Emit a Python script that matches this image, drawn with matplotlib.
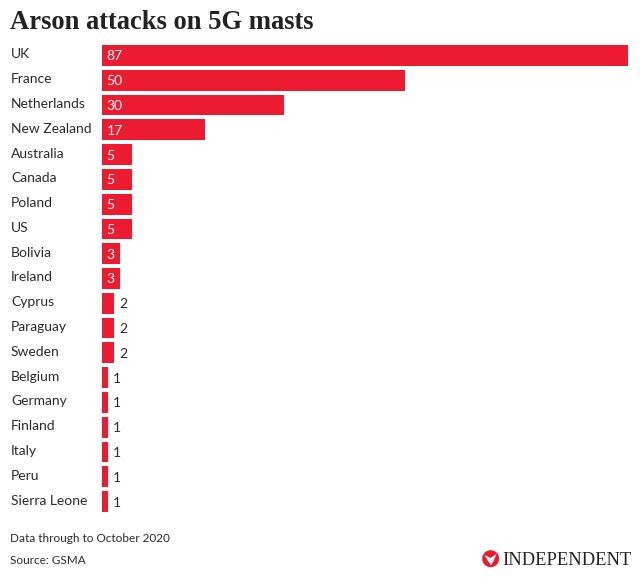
import matplotlib
matplotlib.use("Agg")
import matplotlib.pyplot as plt
from matplotlib.patches import Circle, Polygon

countries = ["UK", "France", "Netherlands", "New Zealand", "Australia", "Canada", "Poland", "US",
             "Bolivia", "Ireland", "Cyprus", "Paraguay", "Sweden", "Belgium", "Germany", "Finland",
             "Italy", "Peru", "Sierra Leone"]
attacks = [87, 50, 30, 17, 5, 5, 5, 5, 3, 3, 2, 2, 2, 1, 1, 1, 1, 1, 1]

W, H = 640, 581
RED = "#ed1b30"
TXT = "#2b2b2b"
plt.rcParams["font.family"] = ["Lato", "DejaVu Sans"]

fig = plt.figure(figsize=(W / 100, H / 100), dpi=100, facecolor="white")
ax = fig.add_axes([102 / W, 1 - 526 / H, (W - 102) / W, (526 - 30.5) / H])
ax.set_xlim(0, (W - 102) / 6.05)
ax.set_ylim(18 + (526 - 501.5) / 24.78, -(55.5 - 30.5) / 24.78)
ax.axis("off")

pos = list(range(len(countries)))
ax.barh(pos, attacks, height=0.84, color=RED, linewidth=0)

for y, c, v in zip(pos, countries, attacks):
    ax.annotate(c, (0, y), xytext=(-91, 1), textcoords="offset pixels", ha="left", va="center",
                fontsize=10, color=TXT)
    if v >= 3:
        ax.annotate(str(v), (0, y), xytext=(4.5, -1), textcoords="offset pixels", ha="left", va="center",
                    fontsize=10, color="white")
    else:
        ax.annotate(str(v), (v, y), xytext=(5, -1), textcoords="offset pixels", ha="left", va="center",
                    fontsize=10, color=TXT)

fig.text(10 / W, 1 - 29 / H, "Arson attacks on 5G masts", family="Liberation Serif", weight="bold",
         fontsize=19.1, color="#222222", ha="left", va="baseline")
fig.text(10.5 / W, 1 - 541.5 / H, "Data through to October 2020", fontsize=8.5, color=TXT, ha="left", va="baseline")
fig.text(10.5 / W, 1 - 563.5 / H, "Source: GSMA", fontsize=8.5, color=TXT, ha="left", va="baseline")

# logo
ov = fig.add_axes([0, 0, 1, 1], facecolor="none")
ov.set_xlim(0, W); ov.set_ylim(H, 0); ov.axis("off")
ov.add_patch(Circle((490.7, 558.7), 8.5, color=RED, linewidth=0))
ov.add_patch(Polygon([(484.5, 555), (490.5, 558), (496.5, 554), (493.5, 561), (491, 565), (488, 561)],
                     closed=True, color="white", linewidth=0))
ov.text(502, 565, "INDEPENDENT", family="Liberation Serif", fontsize=13.3, color="#222222",
        ha="left", va="baseline")
fig.savefig("out.png", dpi=100, facecolor="white")
